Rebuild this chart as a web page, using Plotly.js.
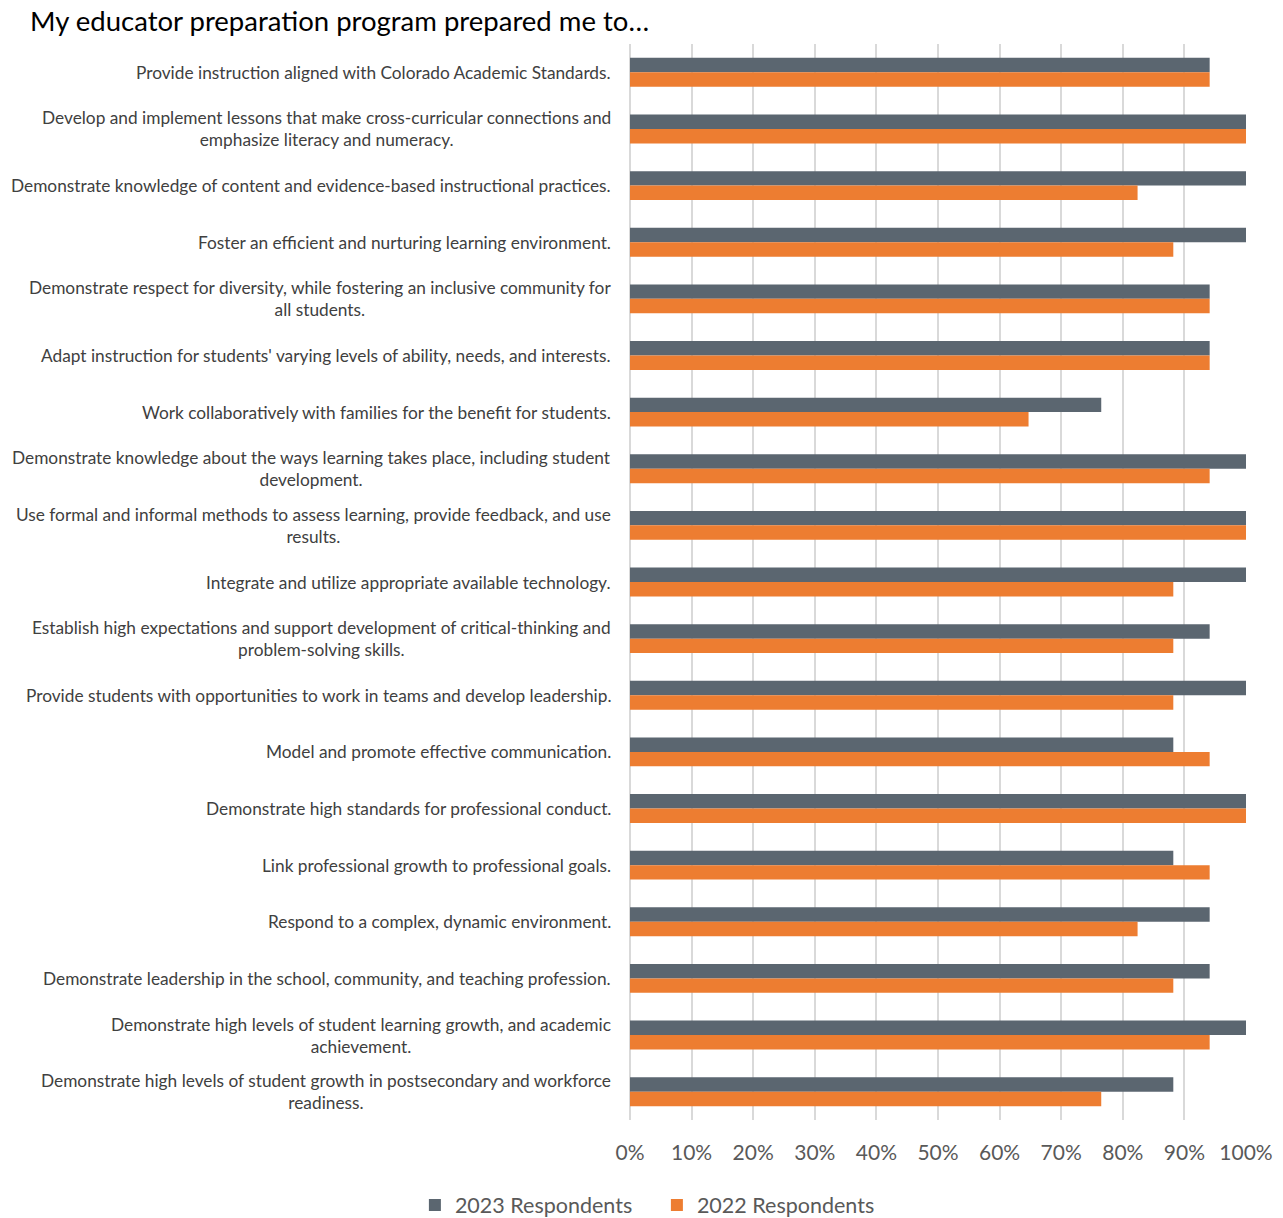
<!DOCTYPE html>
<html>
<head>
<meta charset="utf-8">
<script src="https://cdn.plot.ly/plotly-3.0.1.min.js"></script>
<style>html,body{margin:0;padding:0;background:#fff;}#chart{width:1283px;height:1218px;}</style>
</head>
<body>
<div id="chart"></div>
<script>
const categories = [
  "Provide instruction aligned with Colorado Academic Standards.",
  "Develop and implement lessons that make cross-curricular connections and<br>emphasize literacy and numeracy.",
  "Demonstrate knowledge of content and evidence-based instructional practices.",
  "Foster an efficient and nurturing learning environment.",
  "Demonstrate respect for diversity, while fostering an inclusive community for<br>all students.",
  "Adapt instruction for students' varying levels of ability, needs, and interests.",
  "Work collaboratively with families for the benefit for students.",
  "Demonstrate knowledge about the ways learning takes place, including student<br>development.",
  "Use formal and informal methods to assess learning, provide feedback, and use<br>results.",
  "Integrate and utilize appropriate available technology.",
  "Establish high expectations and support development of critical-thinking and<br>problem-solving skills.",
  "Provide students with opportunities to work in teams and develop leadership.",
  "Model and promote effective communication.",
  "Demonstrate high standards for professional conduct.",
  "Link professional growth to professional goals.",
  "Respond to a complex, dynamic environment.",
  "Demonstrate leadership in the school, community, and teaching profession.",
  "Demonstrate high levels of student learning growth, and academic<br>achievement.",
  "Demonstrate high levels of student growth in postsecondary and workforce<br>readiness."
];
const values2023 = [0.941, 1.0, 1.0, 1.0, 0.941, 0.941, 0.765, 1.0, 1.0, 1.0, 0.941, 1.0, 0.882, 1.0, 0.882, 0.941, 0.941, 1.0, 0.882];
const values2022 = [0.941, 1.0, 0.824, 0.882, 0.941, 0.941, 0.647, 0.941, 1.0, 0.882, 0.882, 0.882, 0.941, 1.0, 0.941, 0.824, 0.882, 0.941, 0.765];
const seriesNames = ["2023 Respondents", "2022 Respondents"];
const xTickVals = [0, 0.1, 0.2, 0.3, 0.4, 0.5, 0.6, 0.7, 0.8, 0.9, 1.0];

const FONT = "Lato, 'Open Sans', sans-serif";
const traces = [
  {type: 'bar', orientation: 'h', name: seriesNames[0], y: categories, x: values2023,
   marker: {color: '#5B6670', line: {width: 0}}, hoverinfo: 'x+y'},
  {type: 'bar', orientation: 'h', name: seriesNames[1], y: categories, x: values2022,
   marker: {color: '#ED7D31', line: {width: 0}}, hoverinfo: 'x+y'}
];
const labelAnnotations = categories.map(c => ({
  x: 0, xref: 'paper', xanchor: 'right', xshift: -17,
  y: c, yref: 'y', yanchor: 'middle',
  text: c, align: 'center', showarrow: false,
  font: {family: FONT, size: 17.3, color: '#404040'}
}));
const layout = {
  width: 1283, height: 1218,
  paper_bgcolor: '#fff', plot_bgcolor: '#fff',
  margin: {l: 630, r: 37, t: 44, b: 98},
  barmode: 'group', bargap: 0.49, bargroupgap: 0,
  font: {family: FONT, color: '#595959'},
  title: {text: 'My educator preparation program prepared me to…', x: 30/1283, xanchor: 'left', xref: 'container',
          y: 1 - 21/1218, yanchor: 'middle', yref: 'container', font: {family: FONT, size: 27.5, color: '#000'}},
  xaxis: {range: [0, 1], tickvals: xTickVals, tickformat: '.0%', showgrid: true, gridcolor: '#d9d9d9', gridwidth: 2,
          zeroline: true, zerolinecolor: '#d9d9d9', zerolinewidth: 2, showline: false, ticks: '', ticklabelstandoff: 18,
          tickfont: {family: FONT, size: 21, color: '#595959'}, fixedrange: true},
  yaxis: {type: 'category', autorange: 'reversed', showgrid: false, zeroline: false, showline: false, ticks: '',
          showticklabels: false, automargin: false, fixedrange: true},
  annotations: labelAnnotations,
  legend: {orientation: 'h', x: 0.512, xanchor: 'center', xref: 'container', y: 1 - 1205/1218, yanchor: 'middle', yref: 'container',
           font: {family: FONT, size: 21.5, color: '#595959'}, traceorder: 'normal', itemwidth: 30,
           entrywidth: 197, entrywidthmode: 'pixels'},
  showlegend: true
};
Plotly.newPlot('chart', traces, layout, {displayModeBar: false, staticPlot: true});
</script>
</body>
</html>
